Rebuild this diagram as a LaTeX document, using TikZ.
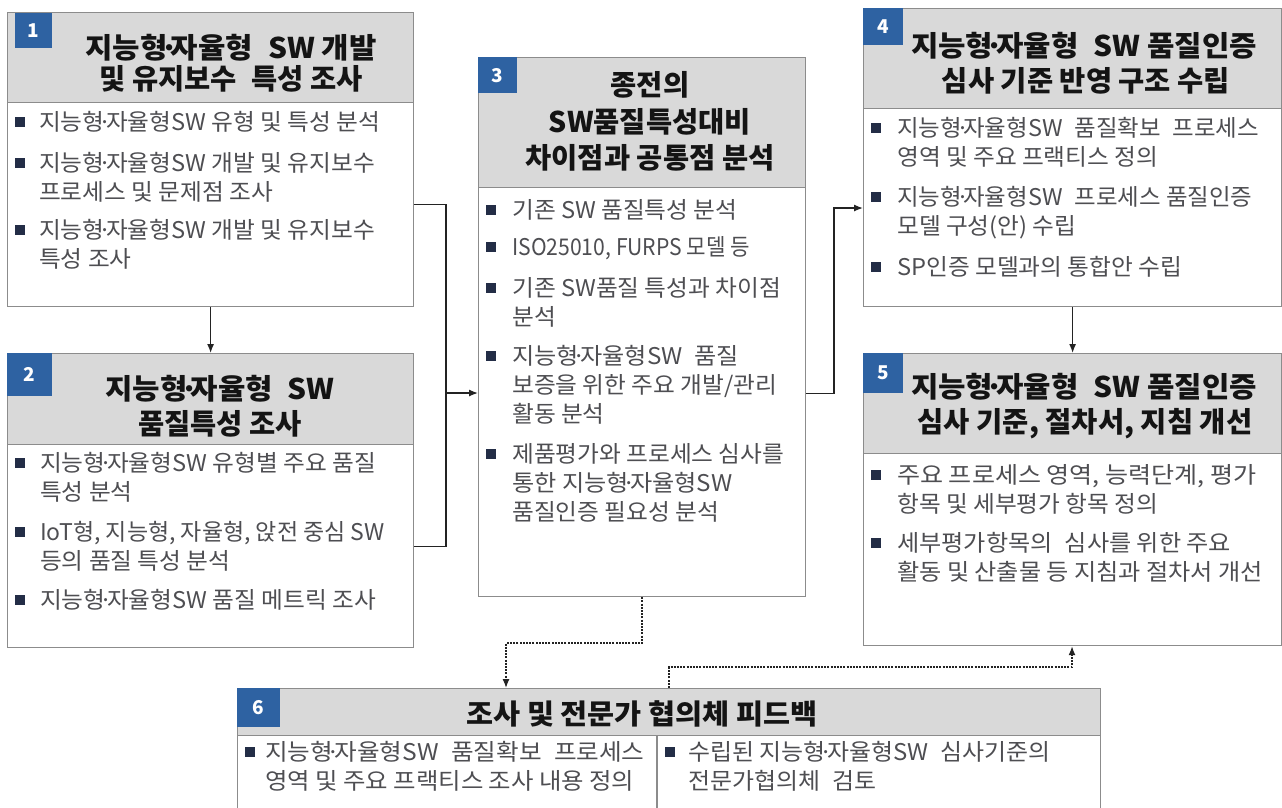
\documentclass[tikz,border=0pt]{standalone}
\usepackage{fontspec}
\setmainfont{Noto Sans CJK KR}
\usepackage{graphicx}
\usetikzlibrary{arrows.meta}
\definecolor{hdr}{RGB}{217,217,217}
\definecolor{brd}{RGB}{140,140,140}
\definecolor{badgec}{RGB}{46,98,162}
\definecolor{bodyc}{RGB}{78,78,82}
\definecolor{ttlc}{RGB}{20,20,20}
\definecolor{bulc}{RGB}{35,45,70}
\definecolor{conn}{RGB}{35,35,35}
\newcommand\dsp{\hspace{0.5em}}
\newcommand\md{\kern-0.25em·\kern-0.25em}
\newcommand\sx[1]{\scalebox{1.03}[1]{#1}}
\newcommand\sxs[1]{\scalebox{1.02}[1]{#1}}
\newcommand\sxb[1]{\scalebox{1.05}[1]{#1}}
\newcommand\st[1]{\scalebox{1.045}[1]{#1}}
\begin{document}
\begin{tikzpicture}[x=1pt,y=-1pt,
  boxst/.style={draw=brd, fill=white, line width=1.2pt, inner sep=0, anchor=north west},
  hdrst/.style={draw=brd, fill=hdr, line width=1.2pt, inner sep=0, anchor=north west},
  badge/.style={fill=badgec, text=white, inner sep=0, anchor=north west, font=\bfseries\fontsize{19}{24}\selectfont},
  ttl/.style={anchor=base, inner sep=0, text=ttlc, font=\bfseries\fontsize{28.5}{34}\selectfont},
  ttlsix/.style={anchor=base, inner sep=0, text=ttlc, font=\bfseries\fontsize{28}{32}\selectfont},
  btxt/.style={anchor=base west, inner sep=0, text=bodyc, font=\fontsize{23}{27}\selectfont},
  bsix/.style={anchor=base west, inner sep=0, text=bodyc, font=\fontsize{23}{27}\selectfont},
  bsq/.style={fill=bulc, minimum size=10.5pt, inner sep=0, anchor=center},
  arr/.style={draw=conn, line width=1.3pt, -{Latex[length=9pt,width=7pt]}},
  ln/.style={draw=conn, line width=1.3pt},
  dotarr/.style={draw=conn, line width=1.3pt, dash pattern=on 2pt off 1.2pt, -{Latex[length=9pt,width=7pt]}}
]
\useasboundingbox (0,0) rectangle (1282,807);
\clip (0,0) rectangle (1282,807);

% ---------- Box 1 ----------
\node[boxst, minimum width=406pt, minimum height=294pt] (b1) at (7,12) {};
\node[hdrst, minimum width=406pt, minimum height=90pt] (h1) at (7,12) {};
\node[badge, minimum width=37pt, minimum height=35pt] (n1) at (15,13) {1};
\node[ttl] (t1a) at (231,58) {\st{지능형\md 자율형\dsp SW 개발}};
\node[ttl] (t1b) at (231,89) {및 유지보수\dsp 특성 조사};
\node[bsq] (q1a) at (20,122) {};
\node[btxt] (x1a) at (39,130.5) {\sx{지능형\md 자율형SW 유형 및 특성 분석}};
\node[bsq] (q1b) at (20,163) {};
\node[btxt] (x1b) at (39,171.5) {\sx{지능형\md 자율형SW 개발 및 유지보수}};
\node[btxt] (x1c) at (39,200.5) {\sx{프로세스 및 문제점 조사}};
\node[bsq] (q1c) at (20,230) {};
\node[btxt] (x1d) at (39,238.5) {\sx{지능형\md 자율형SW 개발 및 유지보수}};
\node[btxt] (x1e) at (39,267) {\sx{특성 조사}};

% ---------- Box 2 ----------
\node[boxst, minimum width=406pt, minimum height=294pt] (b2) at (7,353) {};
\node[hdrst, minimum width=406pt, minimum height=91pt] (h2) at (7,353) {};
\node[badge, minimum width=45pt, minimum height=43pt] (n2) at (7,353) {2};
\node[ttl] (t2a) at (220,399) {\st{지능형\md 자율형\dsp SW}};
\node[ttl] (t2b) at (220,434) {품질특성 조사};
\node[bsq] (q2a) at (20,463) {};
\node[btxt] (x2a) at (40,471.5) {\sx{지능형\md 자율형SW 유형별 주요 품질}};
\node[btxt] (x2b) at (40,500.5) {\sx{특성 분석}};
\node[bsq] (q2b) at (20,532) {};
\node[btxt] (x2c) at (40,540.5) {IoT형, 지능형, 자율형, 앉전 중심 SW};
\node[btxt] (x2d) at (40,569) {\sx{등의 품질 특성 분석}};
\node[bsq] (q2c) at (20,600) {};
\node[btxt] (x2e) at (40,608.5) {\sx{지능형\md 자율형SW 품질 메트릭 조사}};

% ---------- Box 3 ----------
\node[boxst, minimum width=327pt, minimum height=539pt] (b3) at (478,57) {};
\node[hdrst, minimum width=327pt, minimum height=130pt] (h3) at (478,57) {};
\node[badge, minimum width=39pt, minimum height=36pt] (n3) at (478,57) {3};
\node[ttl] (t3a) at (650,95) {종전의};
\node[ttl] (t3b) at (650,132) {SW품질특성대비};
\node[ttl] (t3c) at (650,168) {차이점과 공통점 분석};
\node[bsq] (q3a) at (491,210) {};
\node[btxt] (x3a) at (512,218.5) {\sx{기존 SW 품질특성 분석}};
\node[bsq] (q3b) at (491,247) {};
\node[btxt] (x3b) at (512,255.5) {\scalebox{0.92}[1]{ISO25010, FURPS 모델 등}};
\node[bsq] (q3c) at (491,288) {};
\node[btxt] (x3c) at (512,296.5) {\sx{기존 SW품질 특성과 차이점}};
\node[btxt] (x3d) at (512,325.5) {\sx{분석}};
\node[bsq] (q3d) at (491,356) {};
\node[btxt] (x3e) at (512,364.5) {\sxb{지능형\md 자율형SW\dsp 품질}};
\node[btxt] (x3f) at (512,393.5) {\sx{보증을 위한 주요 개발/관리}};
\node[btxt] (x3g) at (512,422.5) {\sx{활동 분석}};
\node[bsq] (q3e) at (491,454) {};
\node[btxt] (x3h) at (512,462.5) {\sx{제품평가와 프로세스 심사를}};
\node[btxt] (x3i) at (512,491.5) {\sxb{통한 지능형\md 자율형SW}};
\node[btxt] (x3j) at (512,520.5) {\sx{품질인증 필요성 분석}};

% ---------- Box 4 ----------
\node[boxst, minimum width=418pt, minimum height=298pt] (b4) at (863,8) {};
\node[hdrst, minimum width=418pt, minimum height=100pt] (h4) at (863,8) {};
\node[badge, minimum width=40pt, minimum height=37pt] (n4) at (863,8) {4};
\node[ttl] (t4a) at (1084,56) {\st{지능형\md 자율형\dsp SW 품질인증}};
\node[ttl] (t4b) at (1086,91) {심사 기준 반영 구조 수립};
\node[bsq] (q4a) at (876,128) {};
\node[btxt] (x4a) at (897,136.5) {\sxs{지능형\md 자율형SW\dsp 품질확보\dsp 프로세스}};
\node[btxt] (x4b) at (897,165.5) {\sx{영역 및 주요 프랙티스 정의}};
\node[bsq] (q4b) at (876,197) {};
\node[btxt] (x4c) at (897,205.5) {\sxs{지능형\md 자율형SW\dsp 프로세스 품질인증}};
\node[btxt] (x4d) at (897,234.5) {\sx{모델 구성(안) 수립}};
\node[bsq] (q4c) at (876,267) {};
\node[btxt] (x4e) at (897,275.5) {\sx{SP인증 모델과의 통합안 수립}};

% ---------- Box 5 ----------
\node[boxst, minimum width=418pt, minimum height=292pt] (b5) at (863,353) {};
\node[hdrst, minimum width=418pt, minimum height=100pt] (h5) at (863,353) {};
\node[badge, minimum width=40pt, minimum height=40pt] (n5) at (863,353) {5};
\node[ttl] (t5a) at (1084,397) {\st{지능형\md 자율형\dsp SW 품질인증}};
\node[ttl] (t5b) at (1085,432) {심사 기준, 절차서, 지침 개선};
\node[bsq] (q5a) at (876,475) {};
\node[btxt] (x5a) at (897,483.5) {\scalebox{1.09}[1]{주요 프로세스 영역, 능력단계, 평가}};
\node[btxt] (x5b) at (897,512) {\sx{항목 및 세부평가 항목 정의}};
\node[bsq] (q5b) at (876,543) {};
\node[btxt] (x5c) at (897,551.5) {\sxb{세부평가항목의\dsp 심사를 위한 주요}};
\node[btxt] (x5d) at (897,580) {\sxb{활동 및 산출물 등 지침과 절차서 개선}};

% ---------- Box 6 ----------
\node[boxst, minimum width=863pt, minimum height=130pt] (b6) at (237,688) {};
\node[hdrst, minimum width=863pt, minimum height=47pt] (h6) at (237,688) {};
\node[badge, minimum width=43pt, minimum height=39pt] (n6) at (237,688) {6};
\node[ttlsix] (t6a) at (642,724) {\scalebox{1.05}[1]{조사 및 전문가 협의체 피드백}};
\draw[draw=brd, line width=1.2pt] (657,735) -- (657,818);
\node[bsq] (q6a) at (250,752) {};
\node[bsix] (x6a) at (265,760.5) {\scalebox{1.07}[1]{지능형\md 자율형SW\dsp 품질확보\dsp 프로세스}};
\node[bsix] (x6b) at (265,789) {\scalebox{1.06}[1]{영역 및 주요 프랙티스 조사 내용 정의}};
\node[bsq] (q6b) at (670,752) {};
\node[bsix] (x6c) at (688,760.5) {\scalebox{1.04}[1]{수립된 지능형\md 자율형SW\dsp 심사기준의}};
\node[bsix] (x6d) at (688,789) {\scalebox{1.04}[1]{전문가협의체\dsp 검토}};

% ---------- Connectors ----------
\draw[arr] (b1.south) -- (b2.north);
\coordinate (j1) at (446,393);
\draw[ln] ([yshift=-45pt]b1.east) -| (j1);
\draw[ln] (j1) |- ([yshift=-46pt]b2.east);
\draw[arr] (j1) -- (j1 -| b3.west);
\coordinate (k2) at (834,208);
\draw[arr] ([yshift=-66.5pt]b3.east) -| (k2) -- (k2 -| b4.west);
\draw[arr] (b4.south) -- (b5.north);
\coordinate (d1) at (506,643);
\draw[dotarr] (b3.south) |- (d1) -- (d1 |- b6.north);
\coordinate (d2) at (1072,667);
\draw[dotarr] (b6.north) |- (d2) -- (d2 |- b5.south);
\end{tikzpicture}
\end{document}
